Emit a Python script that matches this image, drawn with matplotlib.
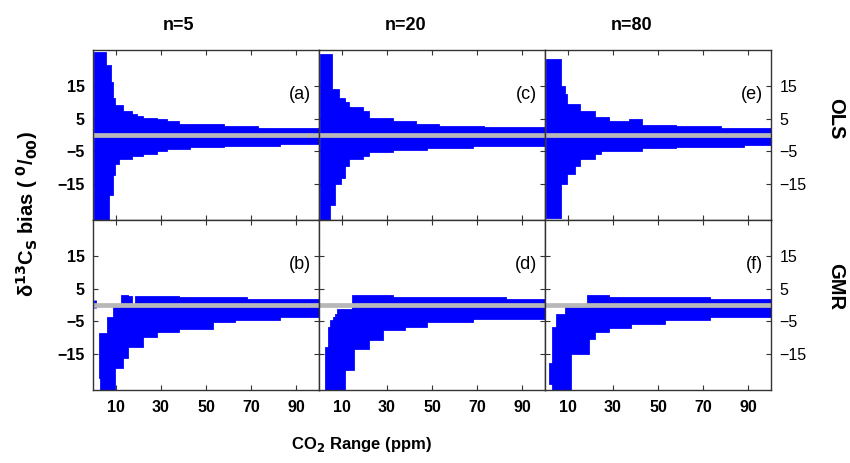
import numpy as np
import matplotlib
matplotlib.use("Agg")
import matplotlib.pyplot as plt

plt.rcParams['font.family'] = ['Liberation Sans', 'DejaVu Sans']

# CO2 range sample positions (ppm)
co2_range = [1, 2, 3, 4, 5, 6, 7, 8, 9, 10, 12, 14, 16, 18, 20, 23, 26, 30, 35,
             40, 45, 50, 55, 60, 65, 70, 75, 80, 85, 90, 95, 100]
nan = float('nan')

# OLS, n=5 (a)
ols_n5_upper = [25, 25, 25, 25, 25, 21, 21, 16, 11, 9, 9, 7, 7, 6, 5.5, 5, 5, 4.5, 4,
                3, 3, 3, 3, 2.3, 2.3, 2.3, 1.7, 1.7, 1.7, 1.7, 1.7, 1.7]
ols_n5_lower = [-26, -26, -26, -26, -26, -26, -18, -18, -12, -8.7, -7, -7, -7, -6, -6, -5.6, -5.6,
                -4.6, -4, -4, -3.5, -3.5, -3.5, -3, -3, -3, -3, -3, -2.5, -2.5, -2.5, -2.5]
# OLS, n=20 (c)
ols_n20_upper = [24.5, 24.5, 24.5, 24.5, 24.5, 13.8, 13.8, 13.8, 11, 11, 9.7, 8.2, 8.2, 8.2, 7,
                 5, 5, 5, 4, 4, 3, 3, 2.3, 2.3, 2.3, 2.3, 2, 2, 2, 2, 2, 2]
ols_n20_lower = [-26, -26, -26, -26, -21, -21, -14.8, -14.8, -14.8, -12.8, -9.2, -7, -7, -7, -6,
                 -5, -5, -5, -4.4, -4.4, -4.4, -3.8, -3.8, -3.8, -3.8, -3, -3, -3, -3, -3, -3, -3]
# OLS, n=80 (e)
ols_n80_upper = [23, 23, 23, 23, 23, 23, 14.8, 14.8, 12.2, 9.2, 9.2, 9.2, 7.1, 7.1, 7.1, 5.1,
                 5.1, 4, 4, 4.6, 2.8, 2.8, 2.8, 2.3, 2.3, 2.3, 2.3, 1.7, 1.7, 1.7, 1.7, 1.7]
ols_n80_lower = [-25, -25, -25, -25, -25, -25, -14.8, -14.8, -14.8, -11.7, -11.7, -9.2, -7, -7,
                 -7, -5.6, -4.6, -4.6, -4.6, -4.6, -3.6, -3.6, -3.6, -3.4, -3.4, -3.4, -3.4,
                 -3.4, -3.4, -2.8, -2.8, -2.8]
# GMR, n=5 (b)
gmr_n5_upper = [1.5, nan, -9, -9, -9, -9, -4, -4, -4, -1, -1, 2.7, 2.5, 0, 2.4, 2.4, 2.4, 2.4,
                2.4, 2, 2, 2, 2, 2, 2, 1.4, 1.4, 1.4, 1.4, 1.4, 1.4, 1.4]
gmr_n5_lower = [-1, nan, -22, -27, -27, -27, -27, -27, -27, -19, -19, -16, -12.5, -12.5, -12.5,
                -9.5, -9.5, -8, -8, -7, -7, -7, -4.9, -4.9, -4.4, -4.4, -4.4, -4.4, -3.4, -3.4,
                -3.4, -3.4]
# GMR, n=20 (d)
gmr_n20_upper = [nan, nan, -13, -13, -7, -5, -4, -3, -1.5, -1.5, -1.5, -1.5, 2.8, 2.8, 2.8,
                 2.8, 2.8, 2.8, 2.2, 2.2, 2.2, 2.2, 2.2, 2.2, 2.2, 2.2, 2.2, 2.2, 1.5, 1.5, 1.5, 1.5]
gmr_n20_lower = [nan, nan, -27, -27, -27, -27, -27, -27, -27, -27, -19.7, -19.7, -13, -13, -13,
                 -10.5, -10.5, -7.4, -7.4, -6.4, -6.4, -4.9, -4.9, -4.9, -4.9, -3.9, -3.9, -3.9,
                 -3.9, -3.9, -3.9, -3.9]
# GMR, n=80 (f)
gmr_n80_upper = [nan, -18, -18, -7, -7, -3, -3, -3, -3, -1, -1, -1, -1, -1, 2.8, 2.8, 2.8, 2, 2,
                 2, 2, 2, 2, 2, 2, 2, 1.4, 1.4, 1.4, 1.4, 1.4, 1.4]
gmr_n80_lower = [nan, -24, -24, -27, -27, -27, -27, -27, -27, -27, -14.6, -14.6, -14.6, -14.6,
                 -10, -7.9, -7.9, -6.7, -6.7, -5.4, -5.4, -5.4, -4.4, -4.4, -4.4, -4.4, -3.4,
                 -3.4, -3.4, -3.4, -3.4, -3.4]

reference_bias = 0.0
column_titles = ['n=5', 'n=20', 'n=80']
row_labels = ['OLS', 'GMR']
panel_letters = [['(a)', '(c)', '(e)'], ['(b)', '(d)', '(f)']]
x_ticks = [10, 30, 50, 70, 90]
y_ticks = [15, 5, -5, -15]

data = [[(ols_n5_upper, ols_n5_lower), (ols_n20_upper, ols_n20_lower), (ols_n80_upper, ols_n80_lower)],
        [(gmr_n5_upper, gmr_n5_lower), (gmr_n20_upper, gmr_n20_lower), (gmr_n80_upper, gmr_n80_lower)]]

BLUE = '#0000ff'
GREY = '#b8b8b8'

fig, axes = plt.subplots(2, 3, figsize=(8.5, 4.63), dpi=100)
fig.subplots_adjust(left=93/850, right=771/850, top=1-50/463, bottom=1-390/463,
                    wspace=0, hspace=0)

x = np.array(co2_range, dtype=float)
for r in range(2):
    for c in range(3):
        ax = axes[r, c]
        up = np.array(data[r][c][0], dtype=float)
        lo = np.array(data[r][c][1], dtype=float)
        ax.fill_between(x, lo, up, step='mid', facecolor=BLUE, edgecolor=BLUE,
                        linewidth=2.0, joinstyle='miter', zorder=2)
        ax.axhline(reference_bias, color=GREY, linewidth=3.4, zorder=3)
        ax.set_xlim(0, 100)
        ax.set_ylim(-26, 26)
        ax.set_xticks(x_ticks)
        ax.set_yticks(y_ticks)
        ax.set_yticklabels([str(v).replace('-', '\u2212') for v in y_ticks])
        ax.tick_params(direction='in', length=3.5, width=0.8, top=True, right=True,
                       labelsize=11.5, color='#333333')
        ax.tick_params(axis='x', pad=7)
        ax.tick_params(axis='y', pad=6)
        for lab in ax.get_xticklabels() + ax.get_yticklabels():
            lab.set_fontweight('bold')
        for sp in ax.spines.values():
            sp.set_linewidth(1.0)
            sp.set_color('#333333')
            sp.set_zorder(4)
        if r == 0:
            ax.tick_params(labelbottom=False)
        if c == 0:
            ax.tick_params(labelleft=True, labelright=False)
        elif c == 2:
            ax.tick_params(labelleft=False, labelright=True)
        else:
            ax.tick_params(labelleft=False, labelright=False)
        ax.text(0.965, 0.74, panel_letters[r][c], transform=ax.transAxes,
                ha='right', va='center', fontsize=13)

col_centers = [178, 406, 632]
for c in range(3):
    fig.text(col_centers[c]/850, 1-25/463, column_titles[c], ha='center', va='center',
             fontsize=13, fontweight='bold')
fig.text(836/850, 1-119/463, row_labels[0], rotation=-90, ha='center', va='center',
         fontsize=14.5, fontweight='bold')
fig.text(836/850, 1-287/463, row_labels[1], rotation=-90, ha='center', va='center',
         fontsize=14.5, fontweight='bold')
fig.text(362/850, 1-445/463, 'CO$_\\mathbf{2}$ Range (ppm)', ha='center', va='center',
         fontsize=12, fontweight='bold')
fig.text(27/850, 1-214/463, '\u03b4$^{\\mathbf{13}}$C$_\\mathbf{S}$ bias ( $^{\\mathbf{0}}$/$_{\\mathbf{00}}$)',
         rotation=90, ha='center', va='center', fontsize=14.5, fontweight='bold')

fig.savefig('out.png', dpi=100)
